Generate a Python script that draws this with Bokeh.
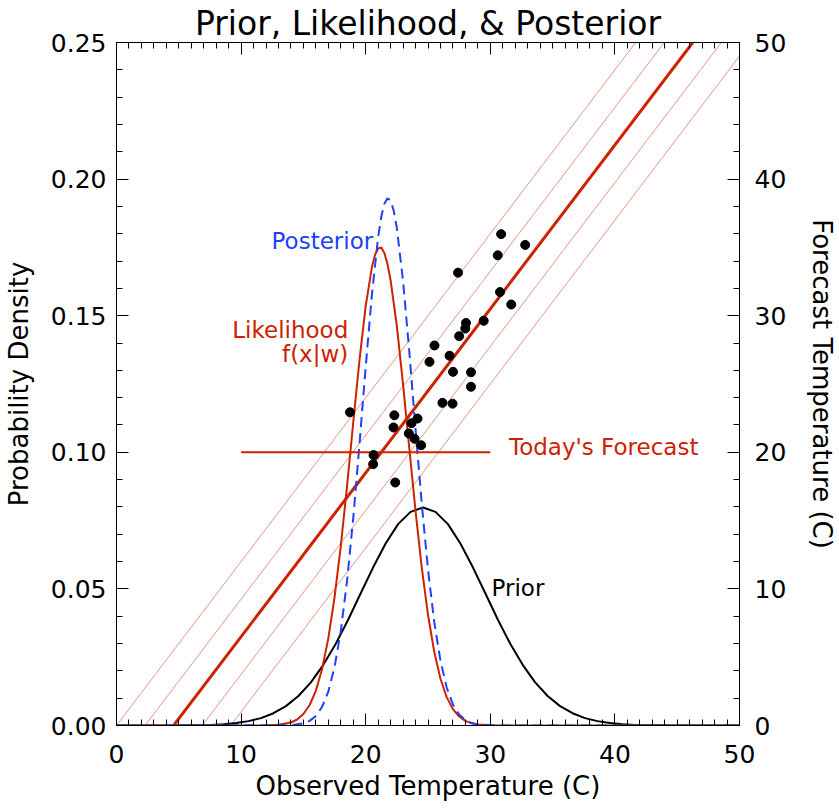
from bokeh.plotting import figure
from bokeh.models import (Range1d, LinearAxis, FixedTicker, PrintfTickFormatter,
                          Slope, Label, ColumnDataSource)
from bokeh.embed import file_html
from bokeh.resources import INLINE

# ---------------- data ----------------
# scatter: observed vs forecast temperature (C)
obs_temp = [30.87, 32.80, 30.60, 27.41, 30.78, 31.68, 29.47, 28.05, 27.99, 27.50,
            25.52, 26.73, 25.12, 27.01, 28.45, 28.45, 26.16, 26.97, 18.74, 22.30,
            24.16, 23.68, 22.23, 23.46, 23.92, 24.45, 20.63, 20.60, 22.37]
fcst_temp = [35.97, 35.18, 34.42, 33.15, 31.73, 30.82, 29.63, 29.47, 29.06, 28.50,
             27.82, 27.07, 26.62, 25.89, 25.86, 24.80, 23.62, 23.56, 22.93, 22.71,
             22.47, 22.13, 21.82, 21.38, 20.99, 20.52, 19.80, 19.13, 17.79]

# prior density
prior_x = [0, 4.6, 5.6, 6.6, 7.6, 8.6, 9.6, 10.6, 11.6, 12.6, 13.6, 14.6, 15.6, 16.6,
           17.6, 18.6, 19.6, 20.6, 21.6, 22.6, 23.6, 24.6, 25.6, 26.6, 27.6, 28.6,
           29.6, 30.6, 31.6, 32.6, 33.6, 34.6, 35.6, 36.6, 37.6, 38.6, 39.6, 40.6,
           41.6, 42.6, 43.6, 44.6, 50]
prior_y = [0.0, 0.0, 0.0001, 0.0001, 0.0002, 0.0005, 0.0009, 0.0016, 0.0027, 0.0045,
           0.0071, 0.0108, 0.0158, 0.0222, 0.0299, 0.0388, 0.0484, 0.0579, 0.0666,
           0.0737, 0.0782, 0.0798, 0.0782, 0.0737, 0.0666, 0.0579, 0.0484, 0.0388,
           0.0299, 0.0222, 0.0158, 0.0108, 0.0071, 0.0045, 0.0027, 0.0016, 0.0009,
           0.0005, 0.0002, 0.0001, 0.0001, 0.0, 0.0]

# likelihood f(x|w)
like_x = [0, 12, 13, 14, 14.5, 15, 15.5, 16, 16.5, 17, 17.5, 18, 18.5, 19, 19.5, 20,
          20.5, 20.75, 21, 21.25, 21.5, 21.75, 22, 22.5, 23, 23.5, 24, 24.5, 25, 25.5,
          26, 26.5, 27, 27.5, 28, 28.5, 29, 30, 31, 50]
like_y = [0.0, 0.0, 0.0003, 0.0011, 0.0022, 0.0042, 0.0075, 0.0127, 0.0207, 0.0319,
          0.0469, 0.0657, 0.0875, 0.1109, 0.1337, 0.1536, 0.1678, 0.1723, 0.1746,
          0.1750, 0.1729, 0.1689, 0.1629, 0.1462, 0.1248, 0.1014, 0.0785, 0.0578,
          0.0405, 0.0270, 0.0171, 0.0104, 0.0060, 0.0033, 0.0017, 0.0008, 0.0004,
          0.0001, 0.0, 0.0]

# posterior density
post_x = [0, 14, 15, 15.5, 16, 16.5, 17, 17.5, 18, 18.5, 19, 19.5, 20, 20.5, 21, 21.25,
          21.5, 21.75, 22, 22.25, 22.5, 23, 23.5, 24, 24.5, 25, 25.5, 26, 26.5, 27,
          27.5, 28, 28.5, 29, 30, 31, 50]
post_y = [0.0, 0.0001, 0.0008, 0.0017, 0.0035, 0.0068, 0.0124, 0.0214, 0.0346, 0.0528,
          0.0759, 0.1029, 0.1313, 0.1578, 0.1789, 0.1862, 0.1910, 0.1930, 0.1921,
          0.1884, 0.1821, 0.1626, 0.1368, 0.1085, 0.0811, 0.0571, 0.0379, 0.0237,
          0.0139, 0.0077, 0.0040, 0.0020, 0.0009, 0.0004, 0.0001, 0.0, 0.0]

# regression of forecast on observed, and its spread lines
reg_slope = 1.2
reg_intercept = -5.5
band_intercepts = [0.0, -2.75, -8.25, -11.0]

# today's forecast
today_forecast = 20.0
today_span = [10.0, 30.0]

# ticks
x_ticks = [0, 10, 20, 30, 40, 50]
x_minor = list(range(0, 51))
dens_ticks = [0.0, 0.05, 0.10, 0.15, 0.20, 0.25]
dens_minor = [0.0, 0.01, 0.02, 0.03, 0.04, 0.05, 0.06, 0.07, 0.08, 0.09, 0.10, 0.11,
              0.12, 0.13, 0.14, 0.15, 0.16, 0.17, 0.18, 0.19, 0.20, 0.21, 0.22, 0.23,
              0.24, 0.25]
fc_ticks = [0, 10, 20, 30, 40, 50]
fc_minor = list(range(0, 51, 2))

# ---------------- style ----------------
FONT = "DejaVu Sans"
RED = "#cc2200"
BLUE = "#2040ff"

p = figure(frame_width=623, frame_height=683,
           x_range=Range1d(0, 50), y_range=Range1d(0, 0.25),
           output_backend="svg", toolbar_location=None,
           min_border_left=116, min_border_right=92,
           min_border_top=42, min_border_bottom=75,
           title="Prior, Likelihood, & Posterior")
p.extra_y_ranges = {"fc": Range1d(0, 50)}
p.xgrid.visible = False
p.ygrid.visible = False
p.outline_line_color = None
p.background_fill_color = "white"
p.border_fill_color = "white"

p.title.text_font = FONT
p.title.text_font_size = "33px"
p.title.text_font_style = "normal"
p.title.align = "center"
p.title.standoff = 0
p.title.text_color = "black"


def style_axis(ax, ticks, minor, size="25px", standoff=10):
    ax.ticker = FixedTicker(ticks=ticks, minor_ticks=minor)
    ax.major_tick_in = 12
    ax.major_tick_out = 0
    ax.minor_tick_in = 6
    ax.minor_tick_out = 0
    ax.axis_line_color = "black"
    ax.major_tick_line_color = "black"
    ax.minor_tick_line_color = "black"
    ax.major_label_text_font = FONT
    ax.major_label_text_font_size = size
    ax.major_label_text_color = "black"
    ax.major_label_standoff = standoff
    ax.axis_label_text_font = FONT
    ax.axis_label_text_font_size = "26px"
    ax.axis_label_text_font_style = "normal"
    ax.axis_label_text_color = "black"


# bottom
xb = p.xaxis[0]
style_axis(xb, x_ticks, x_minor, standoff=19)
xb.axis_label = "Observed Temperature (C)"
xb.axis_label_standoff = 5

# left
yl = p.yaxis[0]
style_axis(yl, dens_ticks, dens_minor, standoff=10)
yl.formatter = PrintfTickFormatter(format="%.2f")
yl.axis_label = "Probability Density"
yl.axis_label_standoff = 14

# top (mirror, no labels)
xt = LinearAxis()
style_axis(xt, x_ticks, x_minor, size="0px", standoff=0)
xt.major_label_text_alpha = 0
p.add_layout(xt, "above")

# right
yr = LinearAxis(y_range_name="fc")
style_axis(yr, fc_ticks, fc_minor, standoff=15)
yr.axis_label = "Forecast Temperature (C)"
yr.axis_label_standoff = 18
p.add_layout(yr, "right")

# regression + spread lines (forecast axis)
for b in band_intercepts:
    p.add_layout(Slope(gradient=reg_slope, y_intercept=b, y_range_name="fc",
                       line_color=RED, line_width=0.6, line_alpha=0.8, level="underlay"))
p.add_layout(Slope(gradient=reg_slope, y_intercept=reg_intercept, y_range_name="fc",
                   line_color=RED, line_width=3, level="underlay"))

# curves
p.line(prior_x, prior_y, line_color="black", line_width=2)
p.line(like_x, like_y, line_color=RED, line_width=2)
p.line(post_x, post_y, line_color=BLUE, line_width=2, line_dash="10 6")

# today's forecast line
p.line(today_span, [today_forecast, today_forecast], y_range_name="fc",
       line_color=RED, line_width=2)

# scatter points
src = ColumnDataSource(dict(x=obs_temp, y=fcst_temp))
p.scatter("x", "y", source=src, y_range_name="fc", size=9,
          fill_color="black", line_color="black")

# labels
def lab(x, y, text, color, align):
    p.add_layout(Label(x=x, y=y, text=text, text_color=color, text_font=FONT,
                       text_font_size="23px", text_align=align,
                       text_baseline="middle"))

lab(20.6, 0.1775, "Posterior", BLUE, "right")
lab(18.6, 0.1449, "Likelihood", RED, "right")
lab(18.6, 0.1358, "f(x|w)", RED, "right")
lab(31.5, 0.1018, "Today's Forecast", RED, "left")
lab(30.1, 0.0505, "Prior", "black", "left")

open("out.html", "w").write(file_html(p, INLINE))
